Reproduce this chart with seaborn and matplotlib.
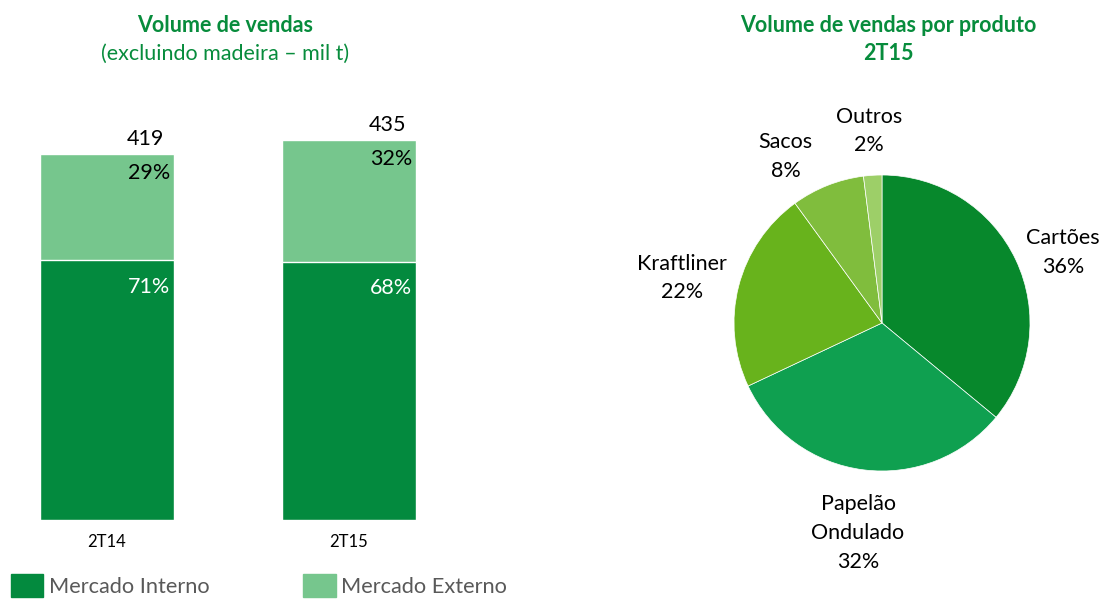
import numpy as np
import pandas as pd
import matplotlib
matplotlib.use("Agg")
import matplotlib.pyplot as plt
from matplotlib.patches import Patch
import seaborn as sns

# data
periodos = ['2T14', '2T15']
total = [419, 435]
pct_interno = [71, 68]
pct_externo = [29, 32]

produtos = ['Cartões', 'Papelão\nOndulado', 'Kraftliner', 'Sacos', 'Outros']
pct_produto = [36, 32, 22, 8, 2]

verde_escuro = '#038A3E'
verde_claro = '#76C68D'
cores_pie = ['#07882C', '#0FA050', '#68B31C', '#80BD3D', '#9DCF68']
verde_titulo = '#078C3C'

sns.set_theme(style='white')
plt.rcParams['font.family'] = ['Lato', 'DejaVu Sans']

W, H = 1101, 599
fig = plt.figure(figsize=(W / 100, H / 100), dpi=100)
fs = 15.5

# stacked bars
interno = [t * p / 100 for t, p in zip(total, pct_interno)]
df = pd.DataFrame({'periodo': periodos, 'total': total, 'interno': interno})

ax = fig.add_axes([0, (H - 520) / H, 450 / W, 460 / H])
sns.barplot(data=df, x='periodo', y='total', color=verde_claro, width=0.554,
            saturation=1, ax=ax)
sns.barplot(data=df, x='periodo', y='interno', color=verde_escuro, width=0.554,
            saturation=1, ax=ax)
ax.set_xlim(-107 / 242, 343 / 242)
ax.set_ylim(0, 527)
ax.set_xlabel('')
ax.set_ylabel('')
ax.set_yticks([])
sns.despine(ax=ax, left=True, bottom=True)
ax.tick_params(axis='x', length=0, pad=10, labelsize=12)
for lab in ax.get_xticklabels():
    lab.set_color('black')

bw = 0.554
for i in range(len(periodos)):
    right = i + bw / 2
    ax.annotate(str(total[i]), (right, total[i]), xytext=(-7, 4),
                textcoords='offset points', ha='right', va='bottom',
                fontsize=fs, color='black')
    ax.annotate(f'{pct_externo[i]}%', (right, total[i]), xytext=(-3, -6),
                textcoords='offset points', ha='right', va='top',
                fontsize=fs, color='black')
    ax.annotate(f'{pct_interno[i]}%', (right, interno[i]), xytext=(-3, -12),
                textcoords='offset points', ha='right', va='top',
                fontsize=fs, color='white')

fig.text(225 / W, 1 - 25 / H, 'Volume de vendas', ha='center', va='center',
         fontsize=fs, fontweight='bold', color=verde_titulo)
fig.text(225 / W, 1 - 54 / H, '(excluindo madeira – mil t)', ha='center',
         va='center', fontsize=fs, color=verde_titulo)

fig.legend(handles=[Patch(color=verde_escuro, label='Mercado Interno'),
                    Patch(color=verde_claro, label='Mercado Externo')],
           loc='lower left', bbox_to_anchor=(-9 / W, -18 / H), ncol=2,
           frameon=False, fontsize=15.7, labelcolor='#595959',
           handlelength=1.5, handleheight=1.3, handletextpad=0.25,
           columnspacing=4.3)

# pie
r = 148
axp = fig.add_axes([(882 - r) / W, (H - 323 - r) / H, 2 * r / W, 2 * r / H])
wedges, _ = axp.pie(pct_produto, colors=cores_pie, startangle=90,
                    counterclock=False, radius=1,
                    wedgeprops={'linewidth': 0.5, 'edgecolor': 'white'})
axp.set_xlim(-1, 1)
axp.set_ylim(-1, 1)
axp.set_aspect('equal')
axp.axis('off')

# label placement: distance from centre and small angle nudge (degrees)
dist = [1.31, 1.43, 1.385, 1.30, 1.30]
nudge = [-4, 0.7, 1.7, 8.4, 0.3]
for w, nome, p, d, n in zip(wedges, produtos, pct_produto, dist, nudge):
    ang = np.deg2rad((w.theta1 + w.theta2) / 2 + n)
    axp.text(d * np.cos(ang), d * np.sin(ang), f'{nome}\n{p}%',
             ha='center', va='center', fontsize=fs, color='black',
             linespacing=1.55, clip_on=False)

fig.text(888 / W, 1 - 25 / H, 'Volume de vendas por produto', ha='center',
         va='center', fontsize=fs, fontweight='bold', color=verde_titulo)
fig.text(888 / W, 1 - 53 / H, '2T15', ha='center', va='center',
         fontsize=fs, fontweight='bold', color=verde_titulo)

fig.savefig('out.png', dpi=100)
